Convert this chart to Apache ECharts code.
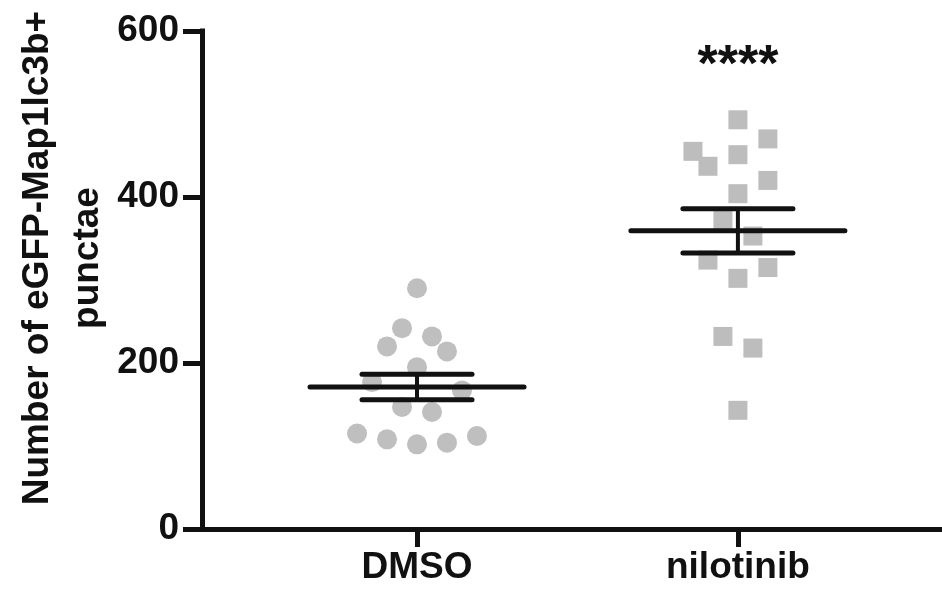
<!DOCTYPE html>
<html>
<head>
<meta charset="utf-8">
<script src="https://cdn.jsdelivr.net/npm/echarts@6/dist/echarts.min.js"></script>
<style>
  html, body { margin: 0; padding: 0; background: #fff; }
  #chart { width: 942px; height: 590px; }
</style>
</head>
<body>
<div id="chart"></div>
<script>
// Groups on the x axis
const categories = ['DMSO', 'nilotinib'];

// Per-cell counts of eGFP-Map1lc3b+ punctae
const dmsoValues = [290, 242, 232, 220, 214, 195, 177, 167, 147, 141, 115, 108, 102, 104, 112];
const nilotinibValues = [493, 470, 455, 451, 437, 420, 404, 372, 353, 324, 315, 302, 232, 218, 143];

// Horizontal spread of the dots within each column (in steps of a slot width)
const dmsoSpread = [0, -1, 1, -2, 2, 0, -3, 3, -1, 1, -4, -2, 0, 2, 4];
const nilotinibSpread = [0, 2, -3, 0, -2, 2, 0, -1, 1, -2, 2, 0, -1, 1, 0];

// Y axis ticks
const yTicks = [0, 200, 400, 600];

const significance = '****';
const yTitle = 'Number of eGFP-Map1lc3b+\npunctae';

const SLOT = 0.0467;          // one dot slot in axis units
const FONT_FAMILY = '"Liberation Sans", Arial, Helvetica, sans-serif';
const FONT = 'bold 37px ' + FONT_FAMILY;
const STAR_FONT = 'bold 52px ' + FONT_FAMILY;

function meanSem(arr) {
  const n = arr.length;
  const m = arr.reduce((a, b) => a + b, 0) / n;
  const v = arr.reduce((a, b) => a + (b - m) * (b - m), 0) / (n - 1);
  return [m, Math.sqrt(v) / Math.sqrt(n)];
}

const groups = [dmsoValues, nilotinibValues];
const spreads = [dmsoSpread, nilotinibSpread];
const pointSeriesData = groups.map((vals, gi) =>
  vals.map((v, i) => [gi + spreads[gi][i] * SLOT, v]));
const summary = groups.map((vals, gi) => {
  const [m, s] = meanSem(vals);
  return [gi, m, s];
});

const chart = echarts.init(document.getElementById('chart'), null, { renderer: 'canvas' });

const option = {
  animation: false,
  backgroundColor: '#ffffff',
  grid: { left: 202, right: 0, top: 31, bottom: 61, containLabel: false },
  xAxis: {
    type: 'value',
    min: -0.67,
    max: 1.636,
    splitLine: { show: false },
    axisLine: { show: true, onZero: false, lineStyle: { color: '#111', width: 5, cap: 'square' } },
    axisTick: {
      show: true, length: 18, inside: false,
      customValues: [0, 1],
      lineStyle: { color: '#111', width: 5 }
    },
    axisLabel: {
      show: true,
      customValues: [0, 1],
      margin: 20,
      formatter: v => categories[Math.round(v)] || '',
      color: '#111',
      fontSize: 37, fontWeight: 'bold', fontFamily: FONT_FAMILY
    }
  },
  yAxis: {
    type: 'value',
    min: 0,
    max: 600,
    interval: 200,
    splitLine: { show: false },
    axisLine: { show: true, onZero: false, lineStyle: { color: '#111', width: 5, cap: 'square' } },
    axisTick: { show: true, length: 19, lineStyle: { color: '#111', width: 5 } },
    axisLabel: {
      show: true,
      margin: 23,
      formatter: v => (yTicks.indexOf(v) >= 0 ? String(v) : ''),
      color: '#111',
      fontSize: 37, fontWeight: 'bold', fontFamily: FONT_FAMILY
    }
  },
  series: [
    {
      name: categories[0],
      type: 'scatter',
      symbol: 'circle',
      symbolSize: 20,
      itemStyle: { color: '#bfbfbf', opacity: 1 },
      data: pointSeriesData[0],
      z: 2
    },
    {
      name: categories[1],
      type: 'scatter',
      symbol: 'rect',
      symbolSize: 19,
      itemStyle: { color: '#bdbdbd', opacity: 1 },
      data: pointSeriesData[1],
      z: 2
    },
    {
      // mean with SEM error bars
      type: 'custom',
      z: 5,
      data: summary,
      renderItem: function (params, api) {
        const gx = api.value(0);
        const m = api.value(1);
        const s = api.value(2);
        const c = api.coord([gx, m]);
        const hi = api.coord([gx, m + s]);
        const lo = api.coord([gx, m - s]);
        const style = { stroke: '#111', lineWidth: 5, lineCap: 'round' };
        const longHalf = 107, capHalf = 55;
        return {
          type: 'group',
          children: [
            { type: 'line', shape: { x1: c[0] - longHalf, y1: c[1], x2: c[0] + longHalf, y2: c[1] }, style },
            { type: 'line', shape: { x1: hi[0] - capHalf, y1: hi[1], x2: hi[0] + capHalf, y2: hi[1] }, style },
            { type: 'line', shape: { x1: lo[0] - capHalf, y1: lo[1], x2: lo[0] + capHalf, y2: lo[1] }, style },
            { type: 'line', shape: { x1: c[0], y1: hi[1], x2: c[0], y2: lo[1] }, style: { stroke: '#111', lineWidth: 4 } }
          ]
        };
      }
    }
  ]
};

chart.setOption(option);

// Axis title and significance marker
const starPos = chart.convertToPixel({ gridIndex: 0 }, [1, 600]);
chart.setOption({
  graphic: [
    {
      type: 'text',
      x: 63,
      y: 258,
      rotation: Math.PI / 2,
      style: {
        text: yTitle,
        font: FONT,
        fill: '#111',
        textAlign: 'center',
        textVerticalAlign: 'middle',
        lineHeight: 50
      }
    },
    {
      type: 'text',
      x: starPos[0],
      y: starPos[1] + 36,
      style: {
        text: significance,
        font: STAR_FONT,
        fill: '#111',
        textAlign: 'center',
        textVerticalAlign: 'middle'
      }
    }
  ]
});
</script>
</body>
</html>
